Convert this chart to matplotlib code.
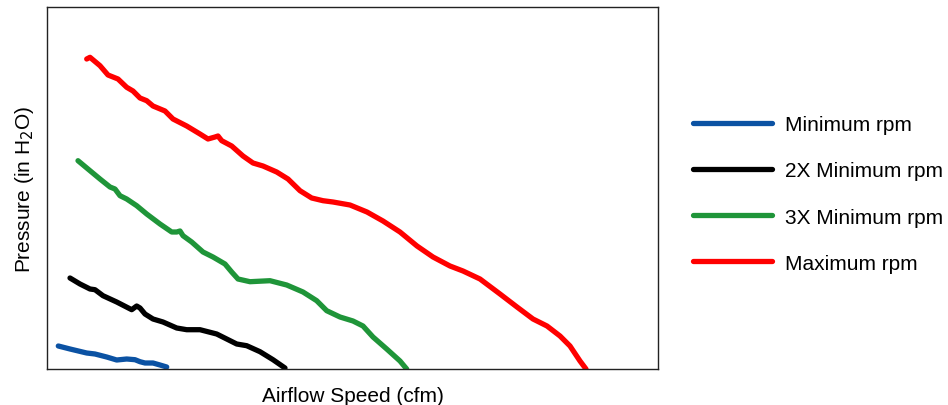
import matplotlib
matplotlib.use("Agg")
import matplotlib.pyplot as plt

plt.rcParams['font.family'] = ['Liberation Sans', 'DejaVu Sans']

labels = ["Minimum rpm", "2X Minimum rpm", "3X Minimum rpm", "Maximum rpm"]
colors = ["#0b52a3", "#000000", "#1f9539", "#ff0000"]

# Airflow (arbitrary units) and pressure (arbitrary units)
min_x = [11.3, 23, 39.7, 48, 59.7, 69.7, 79.7, 88, 93, 98, 106, 113, 119.7]
min_y = [23, 20, 16, 15, 12, 9, 10, 9.3, 7.3, 6, 6, 4, 2]

x2_x = [23, 33, 43, 48, 56, 69.7, 84.7, 89.7, 93, 98, 106, 116, 129.7, 139.7, 153,
        169.7, 179.7, 189.7, 199.7, 213, 226, 238]
x2_y = [91, 85, 80, 79.3, 73.3, 67, 59.3, 63, 61, 55, 50, 47, 41, 39.3, 39.3,
        35, 30, 25, 23.3, 17.3, 9.3, 1]

x3_x = [31, 43, 53, 63, 68, 73, 79.7, 89.7, 99.7, 113, 124.7, 129.7, 133, 136, 144.7,
        156, 166, 178, 184.7, 191, 203, 223, 239.7, 256, 269.7, 279.7, 293, 306, 316,
        326, 339.7, 353, 359.7]
x3_y = [208.3, 198.3, 190, 182, 180, 173.3, 170, 163.3, 155, 145, 137, 137, 138,
        133.3, 127, 117, 112, 105, 97, 90, 87.3, 88.3, 84, 77, 68.3, 58.3, 52, 48,
        43, 32, 20, 8, 0]

max_x = [39.7, 43, 53, 61, 71, 79.7, 86, 93, 99.7, 106, 118, 126, 139.7, 153, 161,
         168, 171, 174.7, 184.7, 196, 206, 216, 229.7, 241, 253, 264.7, 276, 286,
         303, 320, 336, 353, 370, 386, 403, 416, 433, 453, 470, 486, 500, 513, 523,
         533, 539]
max_y = [310, 311.7, 303.3, 294, 290, 281.7, 278, 271, 268.3, 263, 258, 250, 243,
         235, 230, 232, 233, 228.3, 223, 213, 206, 203, 197, 190, 178.3, 171, 168.3,
         167, 164, 157, 148, 137, 123, 112, 103, 98, 90, 75, 62, 50, 43, 33, 23, 8, 0]

series_x = [min_x, x2_x, x3_x, max_x]
series_y = [min_y, x2_y, x3_y, max_y]

fig = plt.figure(figsize=(9.48, 4.06), dpi=100)
ax = fig.add_axes([47/948, 36/406, (658-47)/948, (370-8)/406])

for xs, ys, c, lab in zip(series_x, series_y, colors, labels):
    ax.plot(xs, ys, color=c, lw=3.8, label=lab, solid_capstyle='round',
            solid_joinstyle='round')

ax.set_xlim(0, 611)
ax.set_ylim(0, 362)
ax.set_xticks([])
ax.set_yticks([])
for s in ax.spines.values():
    s.set_linewidth(1.0)
    s.set_color('#222222')

ax.set_xlabel("Airflow Speed (cfm)", fontsize=15, labelpad=12)
ax.set_ylabel("Pressure (in H$_2$O)", fontsize=15, labelpad=8)

fig.legend(loc='center left', bbox_to_anchor=(693/948, 1 - 195/406),
           frameon=False, fontsize=15, handlelength=3.8, handletextpad=0.6,
           labelspacing=1.3, borderpad=0, borderaxespad=0)

fig.savefig("out.png", dpi=100)
